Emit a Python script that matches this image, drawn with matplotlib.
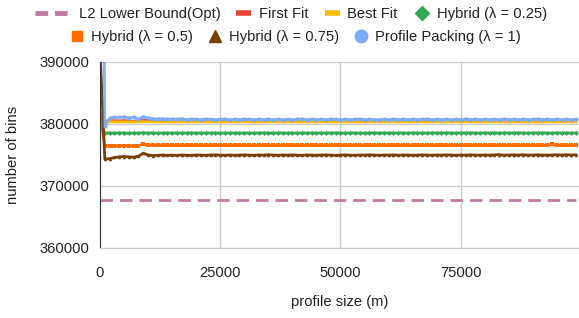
import matplotlib
matplotlib.use("Agg")
import matplotlib.pyplot as plt
from matplotlib.lines import Line2D

plt.rcParams['font.family'] = ['Liberation Sans', 'DejaVu Sans']

# profile size (m), one point every 1000
profile_size = list(range(0, 100000, 1000))

l2_lower_bound = [367750] * 100

first_fit = [380900, 380450, 380500, 380550, 380500, 380550, 380500, 380450, 380500, 380600,
             380550, 380500, 380450, 380500, 380500, 380450, 380500, 380550, 380500, 380450,
             380500, 380500, 380450, 380500, 380550, 380500, 380450, 380500, 380500, 380450,
             380500, 380550, 380500, 380450, 380500, 380500, 380450, 380500, 380500, 380550,
             380500, 380450, 380500, 380500, 380450, 380500, 380550, 380500, 380450, 380500,
             380500, 380450, 380500, 380500, 380550, 380500, 380450, 380500, 380500, 380450,
             380500, 380550, 380500, 380450, 380500, 380500, 380450, 380500, 380550, 380500,
             380450, 380500, 380500, 380450, 380500, 380550, 380500, 380450, 380500, 380500,
             380450, 380500, 380550, 380500, 380450, 380500, 380500, 380450, 380500, 380550,
             380500, 380450, 380500, 380500, 380450, 380500, 380550, 380500, 380450, 380500]

best_fit = [380400, 380300, 380350, 380350, 380330, 380350, 380340, 380330, 380350, 380370,
            380350, 380340, 380330, 380350, 380340, 380330, 380350, 380340, 380330, 380350,
            380340, 380350, 380330, 380340, 380350, 380330, 380340, 380350, 380330, 380340,
            380350, 380340, 380330, 380350, 380340, 380330, 380350, 380340, 380350, 380330,
            380340, 380350, 380330, 380340, 380350, 380330, 380340, 380350, 380330, 380340,
            380350, 380340, 380330, 380350, 380340, 380330, 380350, 380340, 380350, 380330,
            380340, 380350, 380330, 380340, 380350, 380330, 380340, 380350, 380330, 380340,
            380350, 380340, 380330, 380350, 380340, 380330, 380350, 380340, 380350, 380330,
            380340, 380350, 380330, 380340, 380350, 380330, 380340, 380350, 380330, 380340,
            380350, 380340, 380330, 380350, 380340, 380330, 380350, 380340, 380350, 380330]

hybrid_025 = [379750, 378500, 378550, 378520, 378560, 378540, 378500, 378550, 378520, 378580,
              378540, 378560, 378520, 378550, 378540, 378560, 378530, 378550, 378540, 378560,
              378550, 378530, 378560, 378540, 378550, 378520, 378560, 378540, 378550, 378530,
              378560, 378540, 378520, 378550, 378560, 378540, 378530, 378550, 378560, 378540,
              378550, 378520, 378560, 378540, 378550, 378530, 378560, 378540, 378550, 378560,
              378540, 378530, 378550, 378560, 378540, 378520, 378550, 378560, 378540, 378550,
              378530, 378560, 378540, 378550, 378520, 378560, 378540, 378550, 378530, 378560,
              378540, 378550, 378560, 378540, 378530, 378550, 378560, 378540, 378550, 378520,
              378560, 378540, 378550, 378530, 378560, 378540, 378550, 378560, 378540, 378530,
              378550, 378560, 378540, 378550, 378520, 378560, 378540, 378550, 378530, 378550]

hybrid_05 = [381450, 376500, 376500, 376480, 376500, 376490, 376500, 376480, 376520, 376780,
             376580, 376550, 376560, 376540, 376560, 376550, 376540, 376560, 376550, 376540,
             376560, 376550, 376540, 376560, 376550, 376560, 376540, 376550, 376560, 376540,
             376550, 376560, 376540, 376550, 376560, 376550, 376540, 376560, 376550, 376540,
             376560, 376550, 376540, 376560, 376550, 376560, 376540, 376550, 376560, 376540,
             376550, 376560, 376540, 376550, 376560, 376550, 376540, 376560, 376550, 376540,
             376560, 376550, 376540, 376560, 376550, 376560, 376540, 376550, 376560, 376540,
             376550, 376560, 376540, 376550, 376560, 376550, 376540, 376560, 376550, 376540,
             376560, 376550, 376540, 376560, 376550, 376560, 376540, 376550, 376560, 376540,
             376550, 376560, 376540, 376550, 376720, 376550, 376540, 376560, 376550, 376560]

hybrid_075 = [392000, 374350, 374400, 374600, 374700, 374750, 374700, 374650, 374800, 375300,
              375000, 374900, 374950, 375000, 374950, 374980, 374950, 375000, 374970, 374950,
              375000, 374980, 374950, 375000, 375020, 374980, 374950, 375000, 374960, 374990,
              375020, 374980, 374950, 375000, 374970, 375050, 374990, 374960, 375000, 374980,
              375020, 374970, 374950, 375000, 374990, 374960, 375000, 375020, 374980, 374950,
              374990, 375020, 374970, 374960, 375000, 374980, 375030, 374990, 374960, 375000,
              374980, 375020, 374970, 374990, 375000, 374960, 374980, 375020, 374990, 374970,
              375000, 374980, 375020, 374990, 374960, 375000, 374980, 375020, 374990, 374970,
              375000, 374980, 375020, 375060, 374970, 375000, 375020, 374990, 375040, 374980,
              375000, 375020, 374990, 374970, 375000, 375030, 374990, 375040, 375000, 375020]

profile_packing = [480000, 379700, 380900, 381100, 381050, 381150, 381000, 381050, 380800, 381200,
                   381000, 380850, 380800, 380850, 380750, 380800, 380750, 380850, 380700, 380800,
                   380750, 380700, 380800, 380750, 380700, 380750, 380800, 380700, 380750, 380700,
                   380800, 380750, 380700, 380750, 380700, 380800, 380700, 380750, 380700, 380750,
                   380700, 380750, 380800, 380700, 380750, 380700, 380750, 380700, 380800, 380750,
                   380700, 380750, 380700, 380750, 380800, 380700, 380750, 380700, 380700, 380750,
                   380700, 380800, 380700, 380750, 380700, 380750, 380700, 380750, 380800, 380700,
                   380750, 380700, 380750, 380700, 380750, 380700, 380800, 380700, 380750, 380700,
                   380750, 380700, 380750, 380700, 380800, 380700, 380750, 380700, 380750, 380700,
                   380750, 380800, 380700, 380750, 380700, 380750, 380700, 380750, 380700, 380750]

c_l2 = "#c27ba0"
c_ff = "#ea4335"
c_bf = "#fbbc04"
c_h25 = "#34a853"
c_h50 = "#ff6d01"
c_h75 = "#783f04"
c_pp = "#7baaf7"

FS = 10.6

fig = plt.figure(figsize=(5.79, 3.18), dpi=100)
ax = fig.add_axes([100 / 579, 70 / 318, 479 / 579, 186 / 318])

ax.plot(profile_size, l2_lower_bound, color=c_l2, lw=2, dashes=(4.5, 2.5))
ax.plot(profile_size, first_fit, color=c_ff, lw=2)
ax.plot(profile_size, best_fit, color=c_bf, lw=2)
ax.plot(profile_size, hybrid_025, color=c_h25, lw=2, marker="D", ms=2.5, mew=0)
ax.plot(profile_size, hybrid_05, color=c_h50, lw=2, marker="s", ms=2.5, mew=0)
ax.plot(profile_size, hybrid_075, color=c_h75, lw=2, marker="^", ms=2.5, mew=0)
ax.plot(profile_size, profile_packing, color=c_pp, lw=2, marker="o", ms=3, mew=0, alpha=0.9)

ax.set_xlim(0, 99600)
ax.set_ylim(360000, 390000)
ax.set_xticks([0, 25000, 50000, 75000])
ax.set_yticks([360000, 370000, 380000, 390000])
ax.grid(True, color="#cccccc", lw=1)
ax.set_axisbelow(True)
ax.tick_params(length=0, labelsize=FS, colors="#222222")
ax.tick_params(axis="x", pad=13)
ax.tick_params(axis="y", pad=8)
for s in ["top", "right"]:
    ax.spines[s].set_visible(False)
ax.spines["left"].set_color("#333333")
ax.spines["bottom"].set_color("#cccccc")

ax.set_xlabel("profile size (m)", fontsize=FS, color="#222222")
ax.set_ylabel("number of bins", fontsize=FS, color="#222222")
ax.xaxis.set_label_coords(0.5, -0.255)
ax.yaxis.set_label_coords(-0.168, 0.5)

# legend (Google chart style, two rows)
leg_kw = dict(frameon=False, fontsize=FS, borderpad=0, borderaxespad=0,
              loc="center left", labelcolor="#222222")
h_l2 = Line2D([], [], color=c_l2, lw=3.5, dashes=(2.6, 1.4))
fig.legend([h_l2], ["L2 Lower Bound(Opt)"], bbox_to_anchor=(35 / 579, 1 - 14 / 318),
           handlelength=2.4, handletextpad=0.6, **leg_kw)

h_ff = Line2D([], [], color=c_ff, lw=4, solid_capstyle="butt")
h_bf = Line2D([], [], color=c_bf, lw=4, solid_capstyle="butt")
h_h25 = Line2D([], [], color=c_h25, ls="none", marker="D", ms=7)
fig.legend([h_ff, h_bf, h_h25], ["First Fit", "Best Fit", "Hybrid (λ = 0.25)"],
           bbox_to_anchor=(236 / 579, 1 - 14 / 318), ncol=3,
           handlelength=1.05, handletextpad=0.5, columnspacing=1.1, **leg_kw)

h_h50 = Line2D([], [], color=c_h50, ls="none", marker="s", ms=7)
h_h75 = Line2D([], [], color=c_h75, ls="none", marker="^", ms=8)
h_pp = Line2D([], [], color=c_pp, ls="none", marker="o", ms=9)
fig.legend([h_h50, h_h75, h_pp],
           ["Hybrid (λ = 0.5)", "Hybrid (λ = 0.75)", "Profile Packing (λ = 1)"],
           bbox_to_anchor=(69 / 579, 1 - 37 / 318), ncol=3,
           handlelength=1.05, handletextpad=0.45, columnspacing=0.95, **leg_kw)

fig.savefig("out.png", dpi=100)
